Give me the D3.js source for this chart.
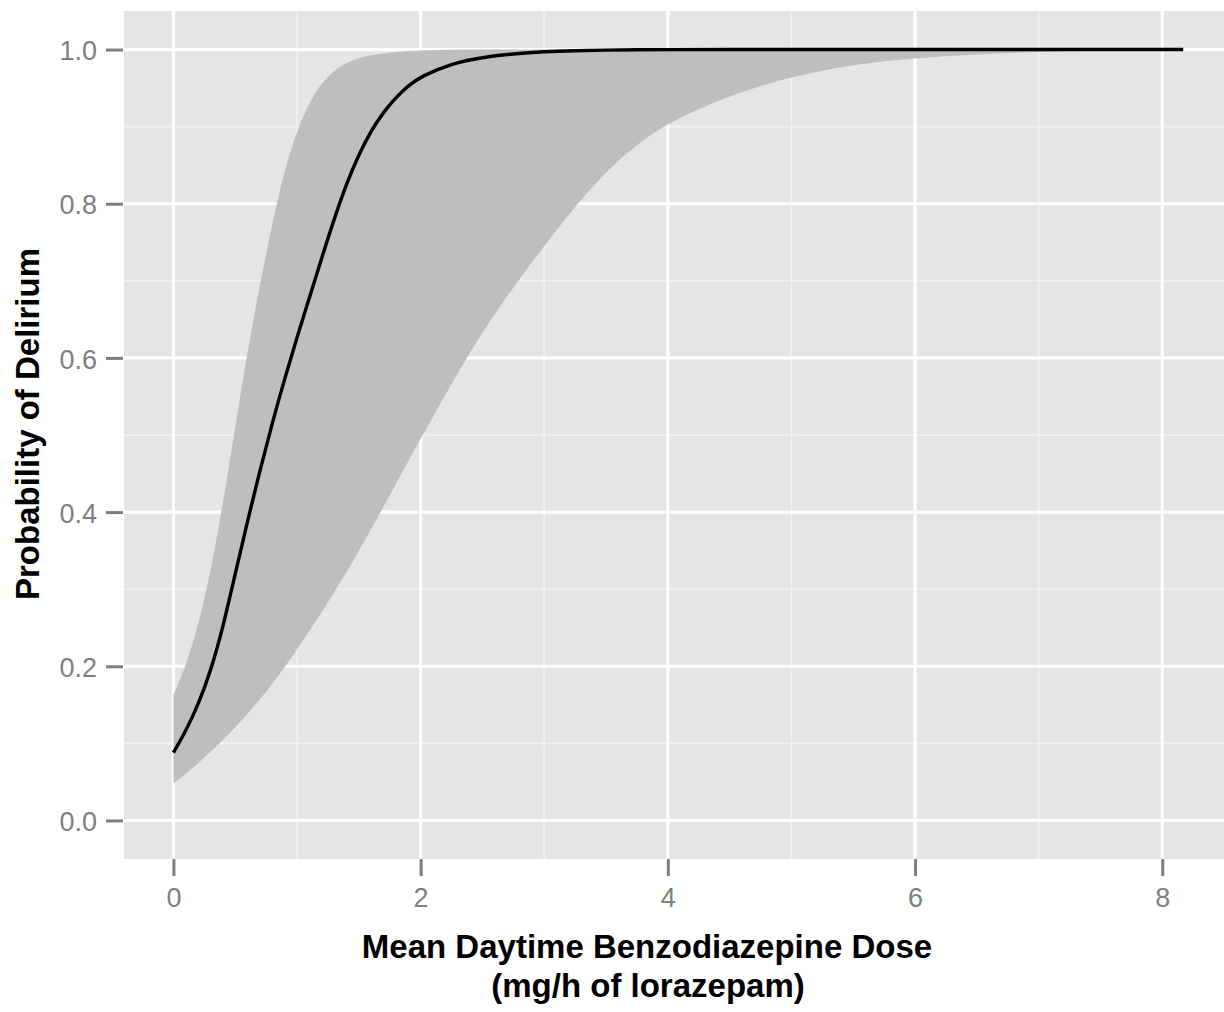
<!DOCTYPE html>
<html>
<head>
<meta charset="utf-8">
<script src="https://cdn.jsdelivr.net/npm/d3@7/dist/d3.min.js"></script>
<style>
  html, body { margin: 0; padding: 0; background: #ffffff; }
  svg { display: block; }
  text { font-family: "Liberation Sans", Arial, Helvetica, sans-serif; }
</style>
</head>
<body>
<svg id="chart" width="1224" height="1012"></svg>
<script>
// ---- Data ----
const dose  = [0, 0.1, 0.2, 0.3, 0.4, 0.5, 0.6, 0.7, 0.8, 0.9, 1.0, 1.1, 1.2, 1.3, 1.4, 1.5, 1.6, 1.7, 1.8, 1.9, 2.0,
               2.25, 2.5, 2.75, 3.0, 3.25, 3.5, 3.75, 4.0, 4.5, 5.0, 5.5, 6.0, 6.5, 7.0, 7.5, 8.0, 8.17];
const prob  = [0.088, 0.116, 0.150, 0.193, 0.250, 0.320, 0.389, 0.454, 0.516, 0.573, 0.627, 0.678, 0.730, 0.780, 0.826, 0.864, 0.895, 0.919, 0.938, 0.953, 0.965,
               0.982, 0.990, 0.9945, 0.9973, 0.9986, 0.9993, 0.9997, 1.0, 1.0, 1.0, 1.0, 1.0, 1.0, 1.0, 1.0, 1.0, 1.0];
const upper = [0.163, 0.200, 0.252, 0.322, 0.410, 0.510, 0.610, 0.695, 0.775, 0.845, 0.895, 0.932, 0.957, 0.973, 0.983, 0.989, 0.993, 0.995, 0.997, 0.998, 0.999,
               1.0, 1.0, 1.0, 1.0, 1.0, 1.0, 1.0, 1.0, 1.0, 1.0, 1.0, 1.0, 1.0, 1.0, 1.0, 1.0, 1.0];
const lower = [0.048, 0.061, 0.074, 0.089, 0.104, 0.121, 0.138, 0.157, 0.177, 0.199, 0.222, 0.246, 0.270, 0.296, 0.322, 0.350, 0.378, 0.407, 0.437, 0.466, 0.495,
               0.567, 0.634, 0.692, 0.745, 0.797, 0.842, 0.877, 0.905, 0.941, 0.965, 0.981, 0.989, 0.994, 0.997, 0.999, 1.0, 1.0];

const xTicks = [0, 2, 4, 6, 8];
const xMinor = [1, 3, 5, 7];
const yTicks = [0.0, 0.2, 0.4, 0.6, 0.8, 1.0];
const yMinor = [0.1, 0.3, 0.5, 0.7, 0.9];

const xTitle1 = "Mean Daytime Benzodiazepine Dose";
const xTitle2 = "(mg/h of lorazepam)";
const yTitle = "Probability of Delirium";

// ---- Layout ----
const svg = d3.select("#chart");
const panel = { left: 124, top: 11, right: 1236.4, bottom: 859 };

const x = d3.scaleLinear().domain([-0.4, 8.6]).range([panel.left, panel.right]);
const y = d3.scaleLinear().domain([-0.05, 1.05]).range([panel.bottom, panel.top]);

const rows = dose.map((d, i) => ({ x: d, p: prob[i], lo: lower[i], hi: upper[i] }));

// panel background
svg.append("rect")
  .attr("x", panel.left).attr("y", panel.top)
  .attr("width", panel.right - panel.left).attr("height", panel.bottom - panel.top)
  .attr("fill", "#e5e5e5");

const grid = svg.append("g");
// minor grid
grid.selectAll(".xminor").data(xMinor).enter().append("line")
  .attr("x1", d => x(d)).attr("x2", d => x(d))
  .attr("y1", panel.top).attr("y2", panel.bottom)
  .attr("stroke", "#f2f2f2").attr("stroke-width", 1.6);
grid.selectAll(".yminor").data(yMinor).enter().append("line")
  .attr("y1", d => y(d)).attr("y2", d => y(d))
  .attr("x1", panel.left).attr("x2", panel.right)
  .attr("stroke", "#f2f2f2").attr("stroke-width", 1.6);
// major grid
grid.selectAll(".xmajor").data(xTicks).enter().append("line")
  .attr("x1", d => x(d)).attr("x2", d => x(d))
  .attr("y1", panel.top).attr("y2", panel.bottom)
  .attr("stroke", "#ffffff").attr("stroke-width", 3.2);
grid.selectAll(".ymajor").data(yTicks).enter().append("line")
  .attr("y1", d => y(d)).attr("y2", d => y(d))
  .attr("x1", panel.left).attr("x2", panel.right)
  .attr("stroke", "#ffffff").attr("stroke-width", 3.2);

// ribbon
const area = d3.area()
  .x(d => x(d.x)).y0(d => y(d.lo)).y1(d => y(d.hi))
  .curve(d3.curveBasis);
svg.append("path").datum(rows)
  .attr("d", area).attr("fill", "#bebebe");

// fitted line
const line = d3.line().x(d => x(d.x)).y(d => y(d.p)).curve(d3.curveBasis);
svg.append("path").datum(rows)
  .attr("d", line).attr("fill", "none")
  .attr("stroke", "#000000").attr("stroke-width", 3.4)
  .attr("stroke-linejoin", "round");

// axes
const xAxis = d3.axisBottom(x).tickValues(xTicks).tickFormat(d3.format("d"))
  .tickSizeInner(17).tickSizeOuter(0).tickPadding(12);
const gx = svg.append("g").attr("transform", `translate(0,${panel.bottom})`).call(xAxis);
gx.select(".domain").remove();
gx.selectAll(".tick line").attr("stroke", "#7f7f7f").attr("stroke-width", 3);
gx.selectAll(".tick text").attr("fill", "#7f7f7f").attr("font-size", 27).attr("dy", "0.72em");

const yAxis = d3.axisLeft(y).tickValues(yTicks).tickFormat(d3.format(".1f"))
  .tickSizeInner(17).tickSizeOuter(0).tickPadding(9);
const gy = svg.append("g").attr("transform", `translate(${panel.left - 1},0)`).call(yAxis);
gy.select(".domain").remove();
gy.selectAll(".tick line").attr("stroke", "#7f7f7f").attr("stroke-width", 3);
gy.selectAll(".tick text").attr("fill", "#7f7f7f").attr("font-size", 27).attr("dy", "0.38em");

// titles
svg.append("text").attr("x", 647).attr("y", 958)
  .attr("text-anchor", "middle").attr("font-size", 33).attr("font-weight", "bold")
  .attr("fill", "#000").text(xTitle1);
svg.append("text").attr("x", 648).attr("y", 997)
  .attr("text-anchor", "middle").attr("font-size", 33).attr("font-weight", "bold")
  .attr("fill", "#000").text(xTitle2);
svg.append("text")
  .attr("transform", "translate(39,424) rotate(-90)")
  .attr("text-anchor", "middle").attr("font-size", 33).attr("font-weight", "bold")
  .attr("fill", "#000").text(yTitle);
</script>
</body>
</html>
